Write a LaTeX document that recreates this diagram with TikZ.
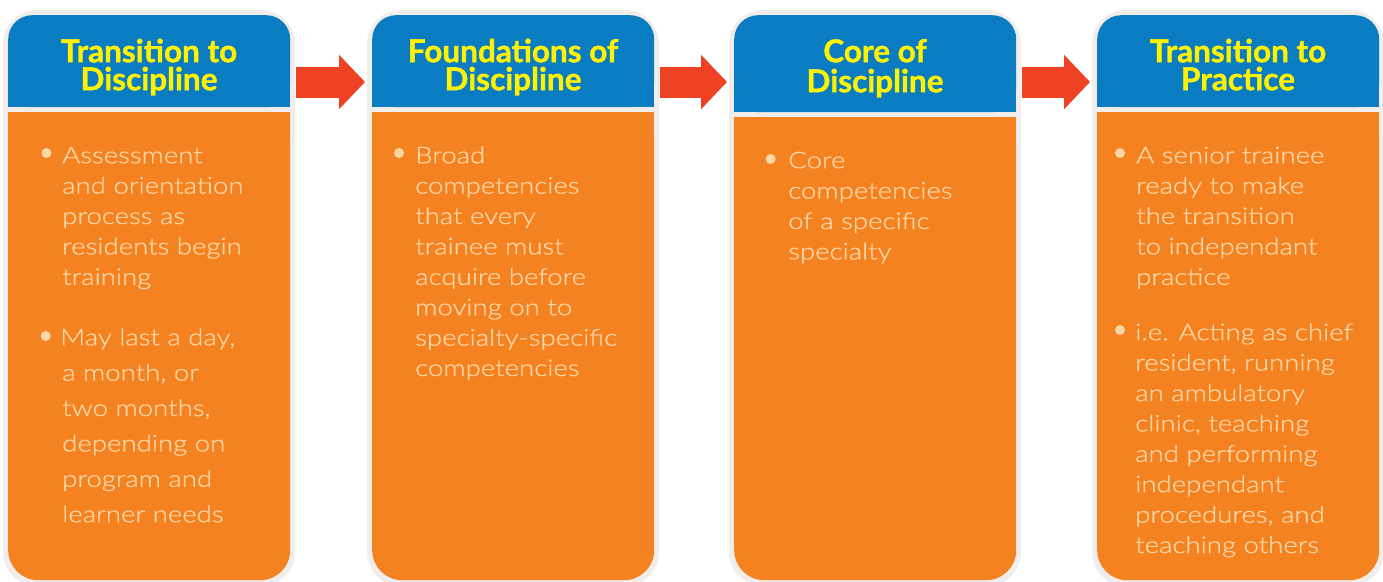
\documentclass[tikz,border=0pt]{standalone}
\usepackage{fontspec}
\setmainfont{Lato}
\newfontfamily\bodyfont[FakeStretch=1.2,FakeBold=0.6]{Lato Light}
\newfontfamily\headfont[FakeBold=1.2]{Lato Bold}
\usetikzlibrary{calc,arrows.meta}
\definecolor{bordergray}{HTML}{F1EDEA}
\definecolor{hblue}{HTML}{0A7DC2}
\definecolor{borange}{HTML}{F58220}
\definecolor{hyellow}{HTML}{FFF200}
\definecolor{peach}{HTML}{FDD6A6}
\definecolor{arrred}{HTML}{EF4123}
\newcommand{\hstrut}{\rule{0pt}{26pt}}
\begin{document}
\begin{tikzpicture}[x=1pt,y=-1pt,
  hdr/.style={rectangle, fill=hblue, rounded corners=24pt, minimum width=282pt, inner sep=0pt, anchor=north west},
  bodybox/.style={rectangle, fill=borange, rounded corners=30pt, minimum width=282pt, inner sep=0pt, anchor=north west},
  htext/.style={anchor=north, inner sep=0pt, align=center, text=hyellow, font=\headfont\fontsize{31.5}{28}\selectfont},
  btext/.style={anchor=north west, inner sep=0pt, align=left, text=peach, font=\bodyfont\fontsize{23}{30.4}\selectfont},
  btextb/.style={btext, font=\bodyfont\fontsize{23}{35.4}\selectfont},
  bigarrow/.style={draw=arrred, line width=31pt, -{Triangle[length=26pt,width=53pt]}},
  dot/.style={fill=peach}
]
\useasboundingbox (0,0) rectangle (1383,581);
\fill[white] (0,0) rectangle (1383,581);
\coordinate (ay) at (0,82);
\foreach \L/\i/\hb in {8/1/107, 372/2/107, 734/3/112, 1097/4/107}{
  \fill[bordergray, rounded corners=34pt] (\L-5,10) rectangle (\L+287,586);
  \fill[hblue] (\L,60) rectangle (\L+282,\hb);
  \node[hdr, minimum height=\hb-15] (h\i) at (\L,15) {};
  \fill[borange] (\L,\hb+5) rectangle (\L+282,300);
  \node[bodybox, minimum height=580-\hb-5] (b\i) at (\L,\hb+5) {};
}
% headers
\node[htext] (h1t) at (149,62-26) {\hstrut Transition to\\Discipline};
\node[htext] (h2t) at (513,62-26) {\hstrut Foundations of\\Discipline};
\node[htext, font=\headfont\fontsize{31.5}{30}\selectfont] (h3t) at (875,62-26) {\hstrut Core of\\Discipline};
\node[htext] (h4t) at (1238,62-26) {\hstrut Transition to\\Practice};
% arrows
\draw[bigarrow] ($(h1.east |- ay)+(6,0)$) -- ($(h2.west |- ay)+(-7,0)$);
\draw[bigarrow] ($(h2.east |- ay)+(6,0)$) -- ($(h3.west |- ay)+(-7,0)$);
\draw[bigarrow] ($(h3.east |- ay)+(6,0)$) -- ($(h4.west |- ay)+(-7,0)$);
% bullets
\fill[dot] (46.5,153) circle (5);
\fill[dot] (45.7,336) circle (5);
\fill[dot] (399,153) circle (5);
\fill[dot] (770.7,159) circle (5);
\fill[dot] (1120,153) circle (5);
\fill[dot] (1120,330) circle (5);
% body texts
\node[btext] (t1a) at (62,163-21.28) {\strut Assessment\\and orientation\\process as\\residents begin\\training};
\node[btextb] (t1b) at (60,345-24.78) {\strut May last a day,\\\hspace{2pt}a month, or\\\hspace{2pt}two months,\\\hspace{2pt}depending on\\\hspace{2pt}program and\\\hspace{2pt}learner needs};
\node[btext] (t2a) at (415,163-21.28) {\strut Broad\\competencies\\that every\\trainee must\\acquire before\\moving on to\\specialty-specific\\competencies};
\node[btext] (t3a) at (788,168-21.28) {\strut Core\\competencies\\of a specific\\specialty};
\node[btext] (t4a) at (1136,163-21.28) {\strut A senior trainee\\ready to make\\the transition\\to independant\\practice};
\node[btext] (t4b) at (1135,340-21.28) {\strut i.e. Acting as chief\\resident, running\\an ambulatory\\clinic, teaching\\and performing\\independant\\procedures, and\\teaching others};
\end{tikzpicture}
\end{document}
